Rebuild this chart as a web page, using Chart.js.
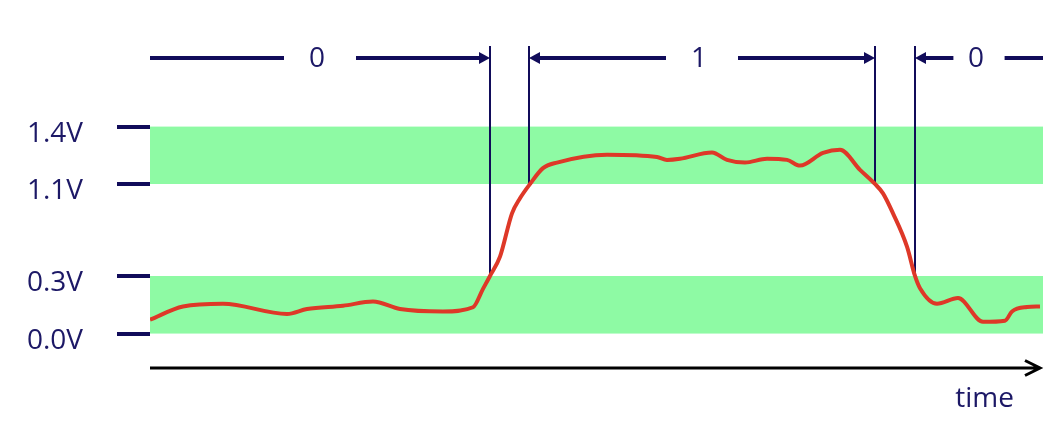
<!DOCTYPE html>
<html>
<head>
<meta charset="utf-8">
<title>Logic levels</title>
<script src="https://cdn.jsdelivr.net/npm/chart.js@4.4.0/dist/chart.umd.min.js"></script>
<style>
  html, body { margin: 0; padding: 0; background: #ffffff; }
  #wrap { width: 1056px; height: 432px; }
</style>
</head>
<body>
<div id="wrap"><canvas id="signalChart"></canvas></div>
<script>
// signal trace (time in arbitrary units, voltage in V)
const timeValues = [0, 3.3, 7.3, 13.7, 15.7, 19.3, 22.3, 25, 29.3, 32.3,
  33.3, 34, 35, 36.2, 37, 38, 39.3, 40.7, 45.7, 50.7,
  51.7, 53, 56.2, 57.7, 59.5, 61.7, 63.7, 65, 67.3, 69,
  71, 72.5, 73.3, 74.3, 75.7, 76.5, 77, 78.7, 80.8, 83.3,
  85.5, 86.2, 87.7, 89];
const voltageValues = [0.072, 0.141, 0.155, 0.102, 0.128, 0.145, 0.167, 0.128, 0.115, 0.137,
  0.233, 0.30, 0.468, 0.845, 0.976, 1.10, 1.183, 1.212, 1.253, 1.241,
  1.226, 1.232, 1.265, 1.226, 1.212, 1.232, 1.226, 1.196, 1.262, 1.279,
  1.174, 1.10, 1.019, 0.845, 0.555, 0.30, 0.236, 0.155, 0.185, 0.061,
  0.067, 0.115, 0.138, 0.141];

// y axis ticks
const voltTicks = [0, 0.3, 1.1, 1.4];
const voltTickLabels = ["0.0V", "0.3V", "1.1V", "1.4V"];

// valid logic bands
const bandLows = [0, 1.1];
const bandHighs = [0.3, 1.4];

// threshold crossings
const markerTimes = [34, 37.9, 72.5, 76.5];
const markerLevels = [0.3, 1.1, 1.1, 0.3];

// bit intervals
const segmentLabels = ["0", "1", "0"];
const segmentStarts = [0, 37.9, 76.5];
const segmentEnds = [34, 72.5, 89.3];

const TIME_MAX = 89.3;
const NAVY = "#110c5a";
const TEXT_NAVY = "#1c1866";
const BAND_GREEN = "#8efaa4";
const TRACE_RED = "#de3828";
const FONT = "Open Sans";

// the voltage axis of the drawing is schematic, not linear
const axisKnotVolts = [-0.18, 0, 0.3, 1.1, 1.4, 1.86];
const axisKnotDecimals = [0, 0.105, 0.2805, 0.561, 0.736, 1];

function interp(value, from, to) {
  let i = 0;
  while (i < from.length - 2 && value > from[i + 1]) i++;
  const f = (value - from[i]) / (from[i + 1] - from[i]);
  return to[i] + f * (to[i + 1] - to[i]);
}

class SchematicScale extends Chart.LinearScale {
  static id = "schematic";
  static defaults = Chart.LinearScale.defaults;

  getPixelForValue(value) {
    return this.getPixelForDecimal(interp(value, axisKnotVolts, axisKnotDecimals));
  }

  getValueForPixel(pixel) {
    return interp(this.getDecimalForPixel(pixel), axisKnotDecimals, axisKnotVolts);
  }
}
Chart.register(SchematicScale);

const signalDecor = {
  id: "signalDecor",
  beforeDatasetsDraw(chart) {
    const { ctx, chartArea, scales: { x, y } } = chart;
    ctx.save();
    ctx.fillStyle = BAND_GREEN;
    bandLows.forEach((low, i) => {
      const top = y.getPixelForValue(bandHighs[i]);
      const bottom = y.getPixelForValue(low);
      ctx.fillRect(chartArea.left, top, chartArea.right - chartArea.left, bottom - top);
    });

    ctx.strokeStyle = NAVY;
    ctx.lineWidth = 2;
    markerTimes.forEach((t, i) => {
      const px = Math.round(x.getPixelForValue(t));
      ctx.beginPath();
      ctx.moveTo(px, chartArea.top + 6);
      ctx.lineTo(px, y.getPixelForValue(markerLevels[i]));
      ctx.stroke();
    });
    ctx.restore();
  },
  afterDraw(chart) {
    const { ctx, chartArea, scales: { x } } = chart;
    const rowY = chartArea.top + 18;
    const head = 11;
    ctx.save();
    ctx.strokeStyle = NAVY;
    ctx.fillStyle = NAVY;
    ctx.lineWidth = 4;
    ctx.font = `28px "${FONT}"`;
    ctx.textAlign = "center";
    ctx.textBaseline = "middle";

    segmentLabels.forEach((label, i) => {
      const x0 = x.getPixelForValue(segmentStarts[i]);
      const x1 = x.getPixelForValue(segmentEnds[i]);
      const mid = (x0 + x1) / 2;
      const gap = Math.min(36, (x1 - x0) / 5);
      const leftHead = segmentStarts[i] > x.min;
      const rightHead = segmentEnds[i] < x.max;

      ctx.beginPath();
      ctx.moveTo(leftHead ? x0 + head : x0, rowY);
      ctx.lineTo(mid - gap, rowY);
      ctx.moveTo(mid + gap, rowY);
      ctx.lineTo(rightHead ? x1 - head : x1, rowY);
      ctx.stroke();

      if (leftHead) {
        ctx.beginPath();
        ctx.moveTo(x0, rowY);
        ctx.lineTo(x0 + head, rowY - 6);
        ctx.lineTo(x0 + head, rowY + 6);
        ctx.closePath();
        ctx.fill();
      }
      if (rightHead) {
        ctx.beginPath();
        ctx.moveTo(x1, rowY);
        ctx.lineTo(x1 - head, rowY - 6);
        ctx.lineTo(x1 - head, rowY + 6);
        ctx.closePath();
        ctx.fill();
      }

      ctx.fillStyle = TEXT_NAVY;
      ctx.fillText(label, mid - 3, rowY + 1);
      ctx.fillStyle = NAVY;
    });

    // time axis
    const axisY = chartArea.bottom;
    const tip = chartArea.right - 3;
    ctx.strokeStyle = "#000000";
    ctx.lineWidth = 3;
    ctx.beginPath();
    ctx.moveTo(chartArea.left, axisY);
    ctx.lineTo(tip, axisY);
    ctx.moveTo(tip - 15, axisY - 7.5);
    ctx.lineTo(tip, axisY);
    ctx.lineTo(tip - 15, axisY + 7.5);
    ctx.stroke();

    ctx.fillStyle = TEXT_NAVY;
    ctx.textAlign = "right";
    ctx.textBaseline = "alphabetic";
    ctx.fillText("time", tip - 26, axisY + 39);
    ctx.restore();
  }
};

const ctx = document.getElementById("signalChart").getContext("2d");
new Chart(ctx, {
  type: "line",
  data: {
    datasets: [
      {
        label: "signal",
        data: timeValues.map((t, i) => ({ x: t, y: voltageValues[i] })),
        borderColor: TRACE_RED,
        borderWidth: 4,
        pointRadius: 0,
        cubicInterpolationMode: "monotone",
        fill: false,
      },
    ],
  },
  options: {
    responsive: true,
    maintainAspectRatio: false,
    animation: false,
    layout: { padding: { left: 25, right: 13, top: 40, bottom: 64 } },
    plugins: {
      legend: { display: false },
      tooltip: { enabled: false },
    },
    scales: {
      x: {
        type: "linear",
        min: 0,
        max: TIME_MAX,
        display: false,
      },
      y: {
        type: "schematic",
        min: -0.18,
        max: 1.86,
        afterBuildTicks: (axis) => {
          axis.ticks = voltTicks.map((value) => ({ value }));
        },
        afterFit: (axis) => {
          axis.width = 125;
          axis.paddingTop = 0;
          axis.paddingBottom = 0;
        },
        border: { display: false },
        grid: {
          drawOnChartArea: false,
          drawTicks: true,
          tickLength: 33,
          lineWidth: 4,
          color: NAVY,
        },
        ticks: {
          padding: 34,
          labelOffset: 7,
          color: TEXT_NAVY,
          font: { family: FONT, size: 28 },
          callback: (value, index) => voltTickLabels[index],
        },
      },
    },
  },
  plugins: [signalDecor],
});
</script>
</body>
</html>
